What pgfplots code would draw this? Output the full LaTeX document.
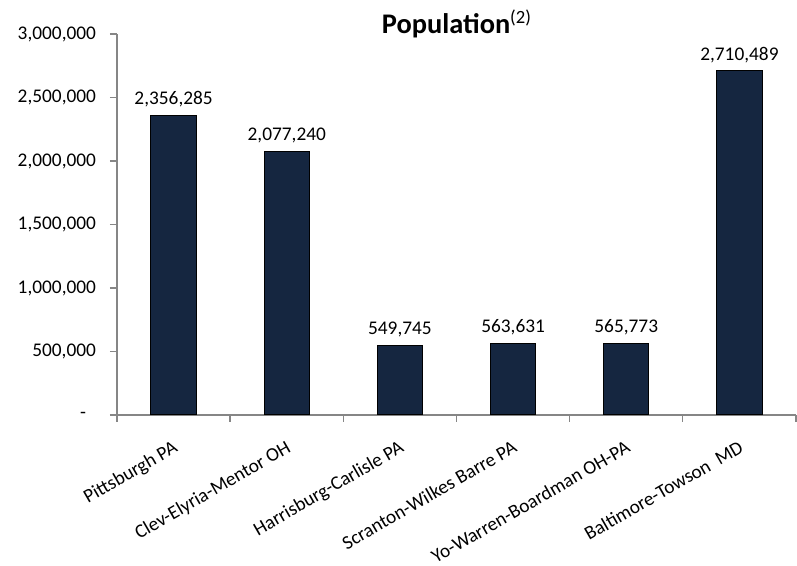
\documentclass[border=0pt]{standalone}
\usepackage{fontspec}
\setmainfont{Carlito}
\usepackage{pgfplots}
\usepackage{pgfplotstable}
\pgfplotsset{compat=1.18}

\definecolor{barnavy}{RGB}{21,38,64}
\definecolor{axisgray}{RGB}{134,134,134}

% Metro area populations (category position, value, printed label)
\pgfplotstableread{
x    y        label
0.5  2356285  2,356,285
1.5  2077240  2,077,240
2.5  549745   549,745
3.5  563631   563,631
4.5  565773   565,773
5.5  2710489  2,710,489
}\popdata

\newcommand{\lblfont}{\fontsize{14.5}{17}\selectfont}

\begin{document}
\begin{tikzpicture}
\begin{axis}[
  scale only axis,
  width=509.25pt, height=285.75pt,
  at={(0,0)}, anchor=south west,
  xmin=0, xmax=6, ymin=0, ymax=3000000,
  axis x line*=bottom, axis y line*=left,
  axis line style={draw=axisgray, line width=1pt},
  tick align=outside,
  major tick length=5.25pt, minor tick length=5.25pt,
  ytick={0,500000,...,3000000},
  yticklabels={{-\hphantom{0}},{500,000},{1,000,000},{1,500,000},{2,000,000},{2,500,000},{3,000,000}},
  scaled y ticks=false,
  ytick style={draw=axisgray, line width=1pt},
  yticklabel style={font=\lblfont, xshift=-7pt},
  xtick={0.5,1.5,2.5,3.5,4.5,5.5},
  xticklabels={Pittsburgh PA, Clev-Elyria-Mentor OH, Harrisburg-Carlisle PA,
    Scranton-Wilkes Barre PA, Yo-Warren-Boardman OH-PA, Baltimore-Towson\ \ MD},
  minor xtick={0,1,2,3,4,5,6},
  xtick style={draw=none},
  minor x tick style={draw=axisgray, line width=1pt},
  xticklabel style={font=\lblfont, yshift=-8.5pt, rotate=30, anchor=north east},
  title={{\bfseries Population}\raisebox{8pt}{\fontsize{14}{14}\selectfont(2)}},
  title style={at={(0.5,1)}, anchor=base, yshift=-6pt, font=\fontsize{21.3}{25}\selectfont},
  point meta=explicit symbolic,
  nodes near coords,
  nodes near coords style={font=\lblfont, anchor=south, yshift=2.5pt},
  clip=false,
]
\addplot[ybar, bar width=0.4, fill=barnavy, draw=black, line width=0.75pt]
  table[x=x, y=y, meta=label] {\popdata};
\end{axis}
\pgfresetboundingbox
\useasboundingbox (-87.75pt,-113.25pt) rectangle (510pt,311.25pt);
\end{tikzpicture}
\end{document}
